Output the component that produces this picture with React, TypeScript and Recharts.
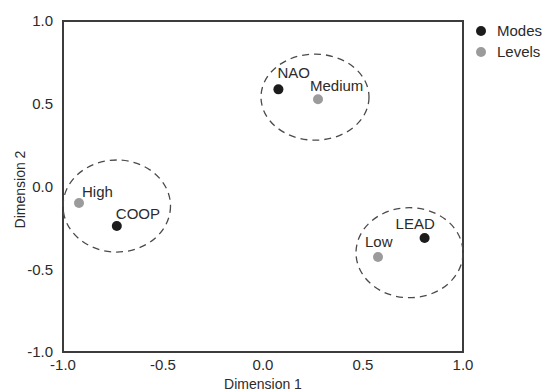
import React from 'react';
import {
  ScatterChart, Scatter, XAxis, YAxis, ReferenceArea,
} from 'recharts';

// modes (black points)
const modeNames = ['NAO', 'COOP', 'LEAD'];
const modeDim1 = [0.077, -0.731, 0.808];
const modeDim2 = [0.587, -0.239, -0.311];

// levels (grey points)
const levelNames = ['Medium', 'High', 'Low'];
const levelDim1 = [0.275, -0.92, 0.575];
const levelDim2 = [0.527, -0.1, -0.426];

// dashed cluster outlines, as bounding boxes in data units
const clusterX1 = [-0.01, -1.0, 0.465];
const clusterX2 = [0.53, -0.4625, 1.0];
const clusterY1 = [0.28, -0.396, -0.672];
const clusterY2 = [0.8, 0.16, -0.128];

const axisTicks = [-1, -0.5, 0, 0.5, 1];

const modes = modeNames.map((name, i) => ({ name, x: modeDim1[i], y: modeDim2[i] }));
const levels = levelNames.map((name, i) => ({ name, x: levelDim1[i], y: levelDim2[i] }));

const MODE_COLOR = '#1c1c1c';
const LEVEL_COLOR = '#9b9b9b';
const TEXT_COLOR = '#2b2b2b';
const FONT = '"Liberation Sans", Arial, sans-serif';

// where each point label sits relative to its dot (text start, baseline)
const labelOffset: Record<string, [number, number]> = {
  NAO: [-1, -11],
  Medium: [-8, -8],
  High: [3, -6],
  COOP: [-1, -7],
  LEAD: [-29, -9],
  Low: [-13, -10],
};

const makeShape = (color: string) => (props: any) => {
  const { cx, cy, payload } = props;
  const [dx, dy] = labelOffset[payload.name] || [0, -8];
  return (
    <g>
      <circle cx={cx} cy={cy} r={5} fill={color} />
      <text x={cx + dx} y={cy + dy} fontSize={15} fill={TEXT_COLOR} fontFamily={FONT}>
        {payload.name}
      </text>
    </g>
  );
};

const ellipseShape = (props: any) => {
  const { x, y, width, height } = props;
  return (
    <ellipse
      cx={x + width / 2}
      cy={y + height / 2}
      rx={Math.abs(width) / 2}
      ry={Math.abs(height) / 2}
      fill="none"
      stroke="#4a4a4a"
      strokeWidth={1.3}
      strokeDasharray="7 5"
    />
  );
};

const xLabel = (props: any) => {
  const { viewBox } = props;
  return (
    <text x={viewBox.x + viewBox.width / 2} y={389} textAnchor="middle" fontSize={14} fill={TEXT_COLOR} fontFamily={FONT}>
      Dimension 1
    </text>
  );
};

const yLabel = (props: any) => {
  const { viewBox } = props;
  const cy = viewBox.y + viewBox.height / 2 + 3;
  return (
    <text
      x={25}
      y={cy}
      transform={`rotate(-90, 25, ${cy})`}
      textAnchor="middle"
      fontSize={14}
      fill={TEXT_COLOR}
      fontFamily={FONT}
    >
      Dimension 2
    </text>
  );
};

const legendItems = [
  { label: 'Modes', color: MODE_COLOR },
  { label: 'Levels', color: LEVEL_COLOR },
];

export default function App() {
  const tickStyle = { fill: TEXT_COLOR, fontSize: 15, fontFamily: FONT };
  return (
    <div style={{ position: 'absolute', left: 0, top: 0, width: 543, height: 392, background: '#fff' }}>
      <ScatterChart width={543} height={392} margin={{ top: 21, right: 80, bottom: 20, left: 0 }}>
        <XAxis
          type="number"
          dataKey="x"
          domain={[-1, 1]}
          ticks={axisTicks}
          tickFormatter={(v: number) => v.toFixed(1)}
          axisLine={false}
          tickLine={false}
          tickSize={0}
          tickMargin={7}
          height={20}
          tick={tickStyle}
          label={{ content: xLabel }}
        />
        <YAxis
          type="number"
          dataKey="y"
          domain={[-1, 1]}
          ticks={axisTicks}
          tickFormatter={(v: number) => v.toFixed(1)}
          axisLine={false}
          tickLine={false}
          tickSize={0}
          tickMargin={10}
          width={63}
          tick={tickStyle}
          label={{ content: yLabel }}
        />
        <ReferenceArea x1={-1} x2={1} y1={-1} y2={1} fill="none" stroke="#3c3c3c" strokeWidth={2} ifOverflow="visible" />
        {clusterX1.map((x1, i) => (
          <ReferenceArea
            key={i}
            x1={x1}
            x2={clusterX2[i]}
            y1={clusterY1[i]}
            y2={clusterY2[i]}
            ifOverflow="visible"
            shape={ellipseShape}
          />
        ))}
        <Scatter name="Modes" data={modes} fill={MODE_COLOR} shape={makeShape(MODE_COLOR)} isAnimationActive={false} />
        <Scatter name="Levels" data={levels} fill={LEVEL_COLOR} shape={makeShape(LEVEL_COLOR)} isAnimationActive={false} />
      </ScatterChart>
      <div style={{ position: 'absolute', left: 476, top: 20, fontFamily: FONT, fontSize: 15, color: TEXT_COLOR }}>
        {legendItems.map((d) => (
          <div key={d.label} style={{ display: 'flex', alignItems: 'center', height: 21 }}>
            <svg width={10} height={10} style={{ marginRight: 11 }}>
              <circle cx={5} cy={5} r={5} fill={d.color} />
            </svg>
            <span>{d.label}</span>
          </div>
        ))}
      </div>
    </div>
  );
}
